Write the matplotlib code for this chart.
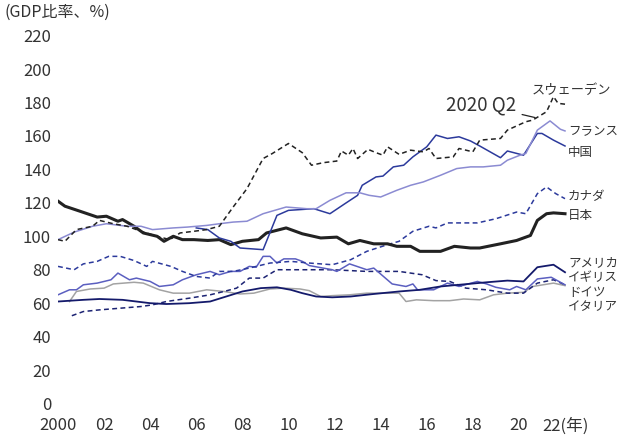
import matplotlib
matplotlib.use("Agg")
import matplotlib.pyplot as plt

plt.rcParams["font.family"] = ["Noto Sans CJK JP", "DejaVu Sans"]

# ── data (GDP ratio, %) ──
sw_x = [2000.0, 2000.3, 2000.8, 2001.5, 2001.8, 2002.4, 2003.0, 2003.6, 2004.3, 2004.85,
        2005.3, 2005.9, 2006.45, 2007.0, 2007.6, 2008.2, 2008.9, 2009.3, 2010.0, 2010.6,
        2011.0, 2011.5, 2012.1, 2012.3, 2012.6, 2012.8, 2013.0, 2013.45, 2013.8, 2014.1,
        2014.3, 2014.8, 2015.3, 2015.85, 2016.1, 2016.4, 2017.15, 2017.4, 2018.0, 2018.3,
        2019.2, 2019.5, 2020.3, 2020.6, 2021.2, 2021.5, 2021.7, 2022.0]
sw_y = [98, 97, 104, 106, 109.5, 107.5, 106, 103, 100, 98,
        102, 103, 104, 106, 117.5, 128.5, 146.5, 149.5, 155.5, 150,
        142.5, 144, 145, 151, 148.5, 152.5, 146.5, 152, 150, 148.5,
        153.5, 149, 151.5, 150.5, 152.5, 146.5, 147.5, 152.5, 150.5, 157.5,
        158.5, 163.5, 168.5, 169.5, 174.5, 183.5, 179.5, 179]

fr_x = [2000.0, 2000.7, 2001.5, 2002.1, 2003.0, 2003.6, 2004.1, 2005.0, 2005.6, 2006.45,
        2007.0, 2007.6, 2008.2, 2008.9, 2009.9, 2010.8, 2011.2, 2011.8, 2012.5, 2013.1,
        2013.5, 2014.0, 2014.7, 2015.3, 2015.85, 2016.6, 2017.3, 2017.9, 2018.45, 2019.2,
        2019.5, 2020.05, 2020.3, 2020.8, 2021.35, 2021.8, 2022.0]
fr_y = [98, 102.5, 106, 107.5, 106, 106, 104, 105, 105.5, 106.5,
        107.5, 108.5, 109, 113.5, 117.5, 116.5, 116.5, 121.5, 126, 126,
        124.5, 123.5, 127.5, 130.5, 132.5, 136.5, 140.5, 141.5, 141.5, 142.5,
        145.5, 148.5, 149.5, 163.5, 169, 164, 163]

cn_x = [2006.0, 2006.5, 2007.0, 2007.5, 2007.9, 2008.9, 2009.5, 2010.0, 2011.1, 2011.8,
        2012.45, 2013.0, 2013.2, 2013.8, 2014.1, 2014.55, 2015.0, 2015.4, 2016.0, 2016.4,
        2016.9, 2017.4, 2017.9, 2018.3, 2019.2, 2019.5, 2020.2, 2020.8, 2021.0, 2021.5, 2022.0]
cn_y = [105, 104, 99, 97, 93, 92, 112.5, 115.5, 116.5, 113.5,
        119.5, 124.5, 130.5, 135.5, 136, 141.5, 142.5, 147.5, 153.5, 160.5,
        158.5, 159.5, 157, 154, 147, 151, 148.5, 161.5, 161.5, 157.5, 154]

ca_x = [2000.0, 2000.7, 2001.1, 2001.7, 2002.2, 2002.7, 2003.3, 2003.85, 2004.1, 2004.9,
        2005.4, 2006.0, 2006.6, 2007.0, 2007.6, 2008.3, 2009.2, 2010.1, 2010.9, 2011.9,
        2012.7, 2013.4, 2014.3, 2014.8, 2015.4, 2016.1, 2016.4, 2016.9, 2017.9, 2018.2,
        2019.0, 2019.9, 2020.3, 2020.8, 2021.2, 2021.6, 2022.0]
ca_y = [82, 80, 83.5, 85, 88, 88, 85.5, 82, 85, 82,
        79, 76, 75, 79, 79, 81, 84, 85, 84, 83,
        86, 91, 95, 97, 103, 106, 105, 108, 108, 108,
        110.5, 114.5, 113.5, 125.5, 129.5, 125.5, 122.5]

jp_x = [2000.0, 2000.3, 2000.95, 2001.7, 2002.1, 2002.6, 2002.8, 2003.3, 2003.7, 2004.3,
        2004.6, 2005.0, 2005.4, 2005.9, 2006.5, 2007.0, 2007.5, 2008.0, 2008.7, 2009.05,
        2009.9, 2010.6, 2011.4, 2012.1, 2012.6, 2013.1, 2013.7, 2014.3, 2014.7, 2015.3,
        2015.7, 2016.6, 2017.2, 2017.9, 2018.3, 2019.2, 2019.9, 2020.5, 2020.8, 2021.2,
        2021.5, 2022.0]
jp_y = [121, 118, 115, 111.5, 112, 109, 110, 106, 102, 100,
        97, 100, 98, 98, 97.5, 98, 95, 97, 98, 102,
        105, 101.5, 99, 99.5, 95.5, 97.5, 95.5, 95.5, 94, 94,
        91, 91, 94, 93, 93, 95.5, 97.5, 100.5, 109.5, 113.5,
        114, 113.5]

us_x = [2000.0, 2001.1, 2001.8, 2002.8, 2004.0, 2004.7, 2005.7, 2006.6, 2007.3, 2008.0,
        2008.8, 2009.5, 2010.1, 2010.6, 2011.2, 2011.9, 2012.7, 2013.7, 2014.8, 2015.7,
        2016.6, 2017.4, 2018.6, 2019.5, 2020.2, 2020.8, 2021.5, 2022.0]
us_y = [61, 62, 62.5, 62, 60, 59.5, 60, 61, 64, 67,
        69, 69.5, 68, 66, 64, 63.5, 64, 65.5, 67, 68,
        70, 71, 72.5, 73.5, 73, 81.5, 83, 78.5]

uk_x = [2000.0, 2000.5, 2000.8, 2001.1, 2001.7, 2002.3, 2002.6, 2003.1, 2003.4, 2004.0,
        2004.4, 2005.0, 2005.4, 2006.0, 2006.6, 2007.0, 2007.5, 2007.9, 2008.3, 2008.6,
        2008.9, 2009.2, 2009.5, 2009.8, 2010.3, 2010.6, 2010.9, 2011.9, 2012.1, 2012.65,
        2013.4, 2013.7, 2014.5, 2015.1, 2015.4, 2015.6, 2016.3, 2016.9, 2017.4, 2018.2,
        2018.6, 2019.0, 2019.6, 2019.9, 2020.3, 2020.8, 2021.4, 2022.0]
uk_y = [65, 68, 68, 71, 72, 74, 78, 74, 75, 73,
        70, 71, 74, 77, 79, 77, 79, 79, 82, 81.5,
        88, 88, 84, 86.5, 86.5, 85, 82.5, 80, 79, 83.5,
        80, 81, 71.5, 70, 71.5, 68, 68, 72, 70, 73,
        71.5, 69.5, 68, 70, 68, 74.5, 75.5, 71]

de_x = [2000.6, 2001.1, 2001.8, 2003.6, 2004.1, 2004.7, 2005.7, 2006.6, 2007.2, 2007.75,
        2008.3, 2008.9, 2009.5, 2010.5, 2011.9, 2013.4, 2014.8, 2015.8, 2016.4, 2017.0,
        2017.7, 2018.6, 2019.5, 2020.2, 2020.8, 2021.5, 2022.0]
de_y = [52.5, 55, 56, 58, 59, 61, 63, 65, 67, 69,
        75, 75, 80, 80, 80, 79, 79, 77, 73.5, 73,
        69, 68, 66, 66, 72, 74, 71]

it_x = [2000.5, 2000.8, 2001.4, 2002.0, 2002.4, 2003.3, 2003.7, 2004.4, 2005.0, 2005.7,
        2006.45, 2007.2, 2007.9, 2008.5, 2009.2, 2009.8, 2010.5, 2010.9, 2011.4, 2011.9,
        2012.65, 2013.4, 2014.1, 2014.8, 2015.1, 2015.55, 2016.3, 2017.0, 2017.6, 2018.3,
        2018.9, 2019.5, 2020.2, 2020.6, 2021.5, 2022.0]
it_y = [61, 67, 68.5, 69, 71.5, 72.5, 72, 68, 66, 66,
        68, 67, 65.5, 66, 68.5, 69, 68.5, 67.5, 64, 64.5,
        65, 66, 66, 66, 61, 62, 61.5, 61.5, 62.5, 62,
        65, 66, 66.5, 70, 72, 70.5]

x_ticks = [2000, 2002, 2004, 2006, 2008, 2010, 2012, 2014, 2016, 2018, 2020, 2022]
x_labels = ["2000", "02", "04", "06", "08", "10", "12", "14", "16", "18", "20", "22(年)"]
y_ticks = list(range(0, 221, 20))

# right-hand series labels: (text, value position)
end_labels = [("フランス", 162.5), ("中国", 150), ("カナダ", 124), ("日本", 112.5),
              ("アメリカ", 84.5), ("イギリス", 75), ("ドイツ", 66.5), ("イタリア", 58)]

TXT = "#333333"
DASH = (3.2, 2.2)

fig = plt.figure(figsize=(6.19, 4.36), dpi=100)
ax = fig.add_axes([0.0937, 0.0745, 0.8563, 0.8438])

ax.plot(it_x, it_y, color="#a3a3a3", lw=1.1)
ax.plot(de_x, de_y, color="#1c2373", lw=1.1, dashes=DASH)
ax.plot(uk_x, uk_y, color="#5b5fc0", lw=1.1)
ax.plot(us_x, us_y, color="#141a6b", lw=1.3)
ax.plot(ca_x, ca_y, color="#2c3a9c", lw=1.1, dashes=DASH)
ax.plot(jp_x, jp_y, color="#222222", lw=2.2)
ax.plot(cn_x, cn_y, color="#2c3a9c", lw=1.1)
ax.plot(fr_x, fr_y, color="#8b8bd2", lw=1.1)
ax.plot(sw_x, sw_y, color="#222222", lw=1.1, dashes=DASH)

ax.set_xlim(2000, 2023)
ax.set_ylim(0, 220)
ax.set_xticks(x_ticks)
ax.set_xticklabels(x_labels)
ax.set_yticks(y_ticks)
ax.tick_params(length=0, labelsize=12, colors=TXT)
ax.tick_params(axis="x", pad=10)
ax.tick_params(axis="y", pad=5)
for s in ax.spines.values():
    s.set_visible(False)

for txt, v in end_labels:
    ax.text(2022.13, v, txt, fontsize=9, color=TXT, va="center", ha="left")
ax.text(2020.55, 187, "スウェーデン", fontsize=9.5, color=TXT, va="center", ha="left")

ax.annotate("2020 Q2", xy=(2020.7, 171), xytext=(2019.9, 178.5),
            fontsize=13.5, color=TXT, ha="right", va="center",
            arrowprops=dict(arrowstyle="-", color="#222222", lw=0.9,
                            shrinkA=2, shrinkB=0))

fig.text(0.008, 0.972, "(GDP比率、%)", fontsize=11.5, color=TXT, ha="left", va="center")

fig.savefig("out.png", dpi=100)
